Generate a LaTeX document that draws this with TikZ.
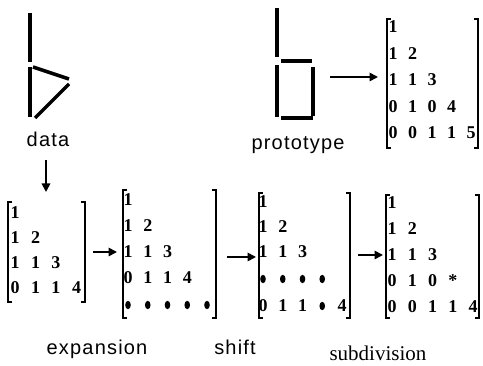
\documentclass[tikz,border=0pt]{standalone}
\usepackage{fontspec}
\setmainfont{Liberation Serif}
\newfontfamily\lblfont[LetterSpace=6]{Liberation Sans}
\usetikzlibrary{arrows.meta,shapes.geometric}
\tikzset{
  glyph/.style={line width=3.5pt},
  brkline/.style={line width=1.9pt},
  ent/.style={inner sep=0pt, text height=12pt, text depth=0pt, anchor=center,
              font=\fontsize{18}{18}\selectfont\bfseries},
  bul/.style={ellipse, fill=black, inner sep=0pt, minimum width=5.6pt, minimum height=8.4pt},
  conn/.style={line width=1.7pt, -{Triangle[length=8.5pt,width=8.5pt]}},
  lbl/.style={font=\lblfont\fontsize{20}{20}\selectfont, inner sep=0pt, anchor=base},
  slbl/.style={font=\fontsize{21}{21}\selectfont, inner sep=0pt, anchor=base},
}
% #1 prefix, #2 x0, #3 dx, #4 y, #5 list col/value
\newcommand{\mrow}[5]{\foreach \c/\v in {#5} {\node[ent] (#1-\c) at ({#2+(\c-1)*#3},#4) {\v};}}
% bullets: #5 list of columns
\newcommand{\brow}[5]{\foreach \c in {#5} {\node[bul] (#1-\c) at ({#2+(\c-1)*#3},#4) {};}}
% brackets: left x, right x, top, bottom
\newcommand{\mbrack}[4]{%
  \draw[brkline] (#1+4,#3) -- (#1,#3) -- (#1,#4) -- (#1+4,#4);
  \draw[brkline] (#2-4,#3) -- (#2,#3) -- (#2,#4) -- (#2-4,#4);}
\begin{document}
\begin{tikzpicture}[x=1pt,y=-1pt]
\fill[white] (0,0) rectangle (483,366);
\useasboundingbox (0,0) rectangle (483,366);

% data glyph
\draw[glyph] (30,13) -- (30,62);
\draw[glyph] (30,67) -- (30,117);
\draw[glyph] (33,67) -- (69,79);
\draw[glyph] (69,84) -- (35,118);
\node[lbl] (data) at (48,147) {data};

% prototype glyph
\draw[glyph] (277,8) -- (277,57);
\draw[glyph] (281,61) -- (312,61);
\draw[glyph] (277,65) -- (277,117);
\draw[glyph] (313,67) -- (313,116);
\draw[glyph] (281,118) -- (313,118);
\node[lbl] (proto) at (298,150) {prototype};

% prototype matrix P
\mbrack{387}{478}{19}{148}
\mrow{p1}{393}{19.5}{27}{1/1}
\mrow{p2}{393}{19.5}{53.5}{1/1,2/2}
\mrow{p3}{393}{19.5}{80}{1/1,2/1,3/3}
\mrow{p4}{393}{19.5}{106.5}{1/0,2/1,3/0,4/4}
\mrow{p5}{393}{19.5}{133}{1/0,2/0,3/1,4/1,5/5}

% data matrix D
\mbrack{8}{85}{202}{302}
\mrow{d1}{15}{20.5}{213}{1/1}
\mrow{d2}{15}{20.5}{238}{1/1,2/2}
\mrow{d3}{15}{20.5}{263}{1/1,2/1,3/3}
\mrow{d4}{15}{20.5}{288}{1/0,2/1,3/1,4/4}

% expansion matrix E
\mbrack{123}{216}{190}{318}
\mrow{e1}{128}{19.75}{200}{1/1}
\mrow{e2}{128}{19.75}{226}{1/1,2/2}
\mrow{e3}{128}{19.75}{252}{1/1,2/1,3/3}
\mrow{e4}{128}{19.75}{278}{1/0,2/1,3/1,4/4}
\brow{e5}{128}{19.75}{305}{1,2,3,4,5}

% shift matrix S
\mbrack{259}{350}{193}{318}
\mrow{s1}{263}{19.75}{202}{1/1}
\mrow{s2}{263}{19.75}{227}{1/1,2/2}
\mrow{s3}{263}{19.75}{252}{1/1,2/1,3/3}
\brow{s4}{263}{19.75}{279}{1,2,3,4}
\mrow{s5}{263}{19.75}{306}{1/0,2/1,3/1,5/4}
\brow{s5b}{263}{19.75}{306}{4}

% subdivision matrix B
\mbrack{386}{479}{195}{318}
\mrow{b1}{392}{20.25}{203}{1/1}
\mrow{b2}{392}{20.25}{229}{1/1,2/2}
\mrow{b3}{392}{20.25}{255}{1/1,2/1,3/3}
\mrow{b4}{392}{20.25}{281}{1/0,2/1,3/0,4/*}
\mrow{b5}{392}{20.25}{307}{1/0,2/0,3/1,4/1,5/4}

% labels
\node[lbl] (expansion) at (97,355) {expansion};
\node[lbl] (shift) at (235,355) {shift};
\node[slbl] (subdivision) at (378,361) {subdivision};

% connectors
\coordinate (a1s) at (46,160);  \coordinate (a1e) at (46,192);
\coordinate (a2s) at (330,77);  \coordinate (a2e) at (378,77);
\coordinate (a3s) at (93,252);  \coordinate (a3e) at (117,252);
\coordinate (a4s) at (227,257); \coordinate (a4e) at (256,257);
\coordinate (a5s) at (358,255); \coordinate (a5e) at (383,255);
\draw[conn] (a1s) -- (a1e);
\draw[conn] (a2s) -- (a2e);
\draw[conn] (a3s) -- (a3e);
\draw[conn] (a4s) -- (a4e);
\draw[conn] (a5s) -- (a5e);
\end{tikzpicture}
\end{document}
